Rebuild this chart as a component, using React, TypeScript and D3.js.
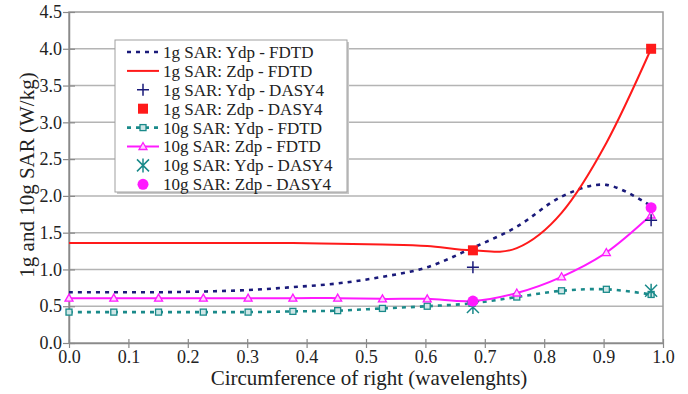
import { useEffect, useRef } from 'react';
import * as d3 from 'd3';

const X_STEPS = d3.range(14).map(i => (0.98 * i) / 13);
const DASY_X = [0.68, 0.98];

const sar1gYdpFdtd = [0.69, 0.69, 0.69, 0.70, 0.72, 0.76, 0.81, 0.90, 1.03, 1.29, 1.58, 1.99, 2.15, 1.86];
const sar1gZdpFdtd = [1.36, 1.36, 1.36, 1.36, 1.36, 1.36, 1.35, 1.34, 1.32, 1.26, 1.29, 1.77, 2.72, 4.0];
const sar10gYdpFdtd = [0.42, 0.42, 0.42, 0.42, 0.42, 0.43, 0.44, 0.47, 0.50, 0.54, 0.625, 0.71, 0.73, 0.66];
const sar10gZdpFdtd = [0.61, 0.61, 0.61, 0.61, 0.61, 0.61, 0.61, 0.60, 0.60, 0.57, 0.68, 0.90, 1.23, 1.74];

const sar1gYdpDasy = [1.03, 1.67];
const sar1gZdpDasy = [1.26, 4.0];
const sar10gYdpDasy = [0.49, 0.71];
const sar10gZdpDasy = [0.57, 1.84];

const X_TICKS = d3.range(0, 11).map(i => i / 10);
const Y_TICKS = d3.range(0, 10).map(i => i / 2);

const LEGEND_LABELS = [
  '1g SAR: Ydp - FDTD',
  '1g SAR: Zdp - FDTD',
  '1g SAR: Ydp - DASY4',
  '1g SAR: Zdp - DASY4',
  '10g SAR: Ydp - FDTD',
  '10g SAR: Zdp - FDTD',
  '10g SAR: Ydp - DASY4',
  '10g SAR: Zdp - DASY4',
];

const NAVY = '#1a1a7a';
const RED = '#ff1a1a';
const TEAL = '#1a8a8a';
const MAGENTA = '#ff1aff';
const FONT = "'Liberation Serif', 'Times New Roman', serif";

type G = d3.Selection<SVGGElement, unknown, null, undefined>;

function drawMarker(g: G, kind: string, x: number, y: number) {
  if (kind === 'plus') {
    g.append('path').attr('d', `M${x - 6},${y}H${x + 6}M${x},${y - 6}V${y + 6}`)
      .attr('stroke', NAVY).attr('stroke-width', 1.5).attr('fill', 'none');
  } else if (kind === 'redsq') {
    g.append('rect').attr('x', x - 5).attr('y', y - 5).attr('width', 10).attr('height', 10).attr('fill', RED);
  } else if (kind === 'tealsq') {
    g.append('rect').attr('x', x - 3).attr('y', y - 3).attr('width', 6).attr('height', 6)
      .attr('fill', '#cfe6e6').attr('stroke', TEAL).attr('stroke-width', 1.3);
  } else if (kind === 'tri') {
    g.append('path').attr('d', `M${x},${y - 4}L${x + 4},${y + 3}L${x - 4},${y + 3}Z`)
      .attr('fill', '#ffd0ff').attr('stroke', MAGENTA).attr('stroke-width', 1.3);
  } else if (kind === 'star') {
    g.append('path')
      .attr('d', `M${x - 6},${y - 6}L${x + 6},${y + 6}M${x + 6},${y - 6}L${x - 6},${y + 6}M${x},${y - 7}V${y + 7}`)
      .attr('stroke', TEAL).attr('stroke-width', 1.5).attr('fill', 'none');
  } else if (kind === 'circ') {
    g.append('circle').attr('cx', x).attr('cy', y).attr('r', 5.5).attr('fill', MAGENTA);
  }
}

export default function App() {
  const svgRef = useRef<SVGSVGElement>(null);

  useEffect(() => {
    if (!svgRef.current) return;
    const width = 688;
    const height = 394;
    const m = { left: 69, right: 25, top: 12, bottom: 51 };

    const svg = d3.select(svgRef.current);
    svg.selectAll('*').remove();

    const x = d3.scaleLinear().domain([0, 1]).range([m.left, width - m.right]);
    const y = d3.scaleLinear().domain([0, 4.5]).range([height - m.bottom, m.top]);

    svg.append('rect').attr('width', width).attr('height', height).attr('fill', '#fff');

    // horizontal gridlines
    svg.append('g').selectAll('line').data(Y_TICKS.slice(1, -1)).join('line')
      .attr('x1', m.left).attr('x2', width - m.right)
      .attr('y1', d => y(d)).attr('y2', d => y(d))
      .attr('stroke', '#b4b4b4').attr('stroke-width', 1.5);

    // frame
    svg.append('rect')
      .attr('x', m.left).attr('y', m.top)
      .attr('width', width - m.left - m.right).attr('height', height - m.top - m.bottom)
      .attr('fill', 'none').attr('stroke', '#9a9a9a').attr('stroke-width', 1.5);

    const xAxis = svg.append('g').attr('transform', `translate(0,${height - m.bottom})`)
      .call(d3.axisBottom(x).tickValues(X_TICKS).tickFormat(d3.format('.1f')).tickSize(5).tickSizeOuter(0));
    const yAxis = svg.append('g').attr('transform', `translate(${m.left},0)`)
      .call(d3.axisLeft(y).tickValues(Y_TICKS).tickFormat(d3.format('.1f')).tickSize(6).tickSizeOuter(0));
    [xAxis, yAxis].forEach(a => {
      a.attr('font-family', null).attr('font-size', null);
      a.select('.domain').attr('stroke', '#8a8a8a').attr('stroke-width', 1.5);
      a.selectAll('.tick line').attr('stroke', '#8a8a8a').attr('stroke-width', 1.2);
      a.selectAll('.tick text').style('font-family', FONT).style('font-size', '18px').attr('fill', '#222');
    });
    // Excel-style ticks crossing the axis line
    xAxis.selectAll('.tick line').attr('y1', -4).attr('y2', 5);
    yAxis.selectAll('.tick line').attr('x1', 6).attr('x2', -6);
    xAxis.selectAll('.tick text').attr('y', 6).attr('dy', '0.75em');
    yAxis.selectAll('.tick text').attr('x', -7);

    svg.append('text')
      .attr('x', 369).attr('y', 385)
      .attr('text-anchor', 'middle').style('font-family', FONT).style('font-size', '21px').attr('fill', '#222')
      .text('Circumference of right (wavelenghts)');
    svg.append('text')
      .attr('transform', 'translate(34,175) rotate(-90)')
      .attr('text-anchor', 'middle').style('font-family', FONT).style('font-size', '21px').attr('fill', '#222')
      .text('1g and 10g SAR (W/kg)');

    const line = d3.line<number>()
      .x((_, i) => x(X_STEPS[i]))
      .y(d => y(d))
      .curve(d3.curveCardinal.tension(0));

    const plot = svg.append('g');
    const addLine = (vals: number[], color: string, dash: string | null) => {
      plot.append('path').attr('d', line(vals)).attr('fill', 'none')
        .attr('stroke', color).attr('stroke-width', dash ? 2.6 : 2)
        .attr('stroke-dasharray', dash);
    };
    addLine(sar10gYdpFdtd, TEAL, '4,5');
    addLine(sar10gZdpFdtd, MAGENTA, null);
    addLine(sar1gYdpFdtd, NAVY, '4,5');
    addLine(sar1gZdpFdtd, RED, null);

    const mk = svg.append('g');
    sar10gYdpFdtd.forEach((v, i) => drawMarker(mk, 'tealsq', x(X_STEPS[i]), y(v)));
    sar10gZdpFdtd.forEach((v, i) => drawMarker(mk, 'tri', x(X_STEPS[i]), y(v)));
    sar1gYdpDasy.forEach((v, i) => drawMarker(mk, 'plus', x(DASY_X[i]), y(v)));
    sar1gZdpDasy.forEach((v, i) => drawMarker(mk, 'redsq', x(DASY_X[i]), y(v)));
    sar10gYdpDasy.forEach((v, i) => drawMarker(mk, 'star', x(DASY_X[i]), y(v)));
    sar10gZdpDasy.forEach((v, i) => drawMarker(mk, 'circ', x(DASY_X[i]), y(v)));

    // legend
    const lg = svg.append('g').attr('transform', 'translate(115,40)');
    const lw = 232;
    const lh = 152;
    lg.append('rect').attr('x', 2).attr('y', 2).attr('width', lw).attr('height', lh).attr('fill', '#c8c8c8');
    lg.append('rect').attr('width', lw).attr('height', lh).attr('fill', '#fff')
      .attr('stroke', '#a0a0a0').attr('stroke-width', 1);
    const rowH = 18.9;
    LEGEND_LABELS.forEach((label, i) => {
      const cy = 12 + i * rowH;
      const row = lg.append('g') as unknown as G;
      const x0 = 12;
      const x1 = 44;
      const cx = (x0 + x1) / 2;
      if (i === 0) {
        row.append('line').attr('x1', x0).attr('x2', x1).attr('y1', cy).attr('y2', cy)
          .attr('stroke', NAVY).attr('stroke-width', 2.6).attr('stroke-dasharray', '4,5');
      } else if (i === 1) {
        row.append('line').attr('x1', x0).attr('x2', x1).attr('y1', cy).attr('y2', cy)
          .attr('stroke', RED).attr('stroke-width', 2);
      } else if (i === 2) {
        drawMarker(row, 'plus', cx, cy);
      } else if (i === 3) {
        drawMarker(row, 'redsq', cx, cy);
      } else if (i === 4) {
        row.append('line').attr('x1', x0).attr('x2', x1).attr('y1', cy).attr('y2', cy)
          .attr('stroke', TEAL).attr('stroke-width', 2.6).attr('stroke-dasharray', '4,5');
        drawMarker(row, 'tealsq', cx, cy);
      } else if (i === 5) {
        row.append('line').attr('x1', x0).attr('x2', x1).attr('y1', cy).attr('y2', cy)
          .attr('stroke', MAGENTA).attr('stroke-width', 2);
        drawMarker(row, 'tri', cx, cy);
      } else if (i === 6) {
        drawMarker(row, 'star', cx, cy);
      } else {
        drawMarker(row, 'circ', cx, cy);
      }
      row.append('text').attr('x', 48).attr('y', cy).attr('dy', '0.35em')
        .style('font-family', FONT).style('font-size', '17px').attr('fill', '#222')
        .text(label);
    });
  }, []);

  return (
    <svg
      ref={svgRef}
      width={688}
      height={394}
      style={{ position: 'absolute', left: 0, top: 0, display: 'block' }}
    />
  );
}
